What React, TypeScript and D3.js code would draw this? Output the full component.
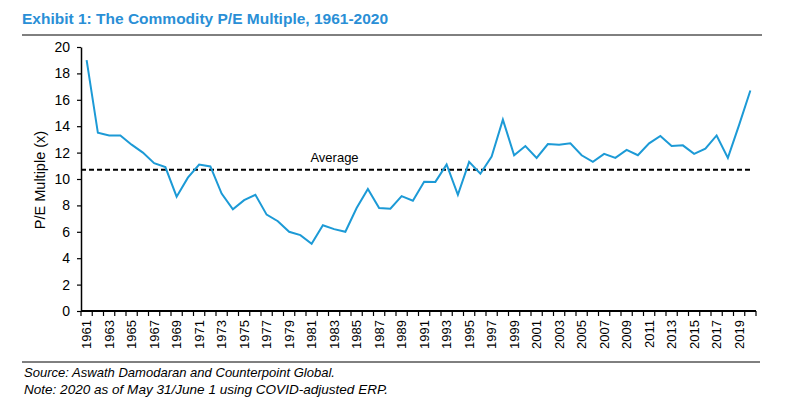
import * as d3 from "d3";
import { useEffect, useRef } from "react";

const YEARS = d3.range(1961, 2021).map(String);
const PE_VALUES = [
  19.0, 13.5, 13.3, 13.3, 12.6, 12.0, 11.2, 10.9, 8.66, 10.1,
  11.1, 10.95, 8.9, 7.7, 8.4, 8.8, 7.3, 6.8, 6.0, 5.75,
  5.1, 6.5, 6.2, 6.0, 7.8, 9.24, 7.8, 7.75, 8.7, 8.36,
  9.8, 9.78, 11.1, 8.8, 11.3, 10.4, 11.7, 14.5, 11.8, 12.5,
  11.6, 12.65, 12.6, 12.7, 11.8, 11.3, 11.9, 11.6, 12.2, 11.8,
  12.7, 13.26, 12.5, 12.55, 11.9, 12.3, 13.3, 11.6, 14.1, 16.7,
];
const AVERAGE = 10.7;
const Y_TICKS = [0, 2, 4, 6, 8, 10, 12, 14, 16, 18, 20];

const W = 787;
const H = 397;
const margin = { left: 81, right: 31, top: 47, bottom: 86 };
const FONT = "Liberation Sans, Arial, sans-serif";

export default function App() {
  const svgRef = useRef<SVGSVGElement>(null);

  useEffect(() => {
    const svgEl = d3.select(svgRef.current);
    svgEl.selectAll("*").remove();
    svgEl.style("background", "#fff");

    const width = W - margin.left - margin.right;
    const height = H - margin.top - margin.bottom;

    // title and rules
    svgEl.append("text")
      .attr("x", 22).attr("y", 24)
      .attr("font-family", FONT).attr("font-weight", "bold")
      .attr("font-size", 15.5).attr("fill", "#2a8fd6")
      .text("Exhibit 1: The Commodity P/E Multiple, 1961-2020");
    svgEl.append("line")
      .attr("x1", 22).attr("x2", 762).attr("y1", 35).attr("y2", 35)
      .attr("stroke", "#000").attr("stroke-width", 1);
    svgEl.append("line")
      .attr("x1", 22).attr("x2", 760).attr("y1", 362).attr("y2", 362)
      .attr("stroke", "#000").attr("stroke-width", 1);

    svgEl.append("text")
      .attr("x", 24).attr("y", 377)
      .attr("font-family", FONT).attr("font-style", "italic").attr("font-size", 13)
      .attr("textLength", 311).attr("lengthAdjust", "spacingAndGlyphs")
      .text("Source: Aswath Damodaran and Counterpoint Global.");
    svgEl.append("text")
      .attr("x", 24).attr("y", 394)
      .attr("font-family", FONT).attr("font-style", "italic").attr("font-size", 13)
      .attr("textLength", 364).attr("lengthAdjust", "spacingAndGlyphs")
      .text("Note: 2020 as of May 31/June 1 using COVID-adjusted ERP.");

    const svg = svgEl.append("g")
      .attr("transform", `translate(${margin.left},${margin.top})`);

    const x = d3.scaleBand().domain(YEARS).range([0, width]);
    const y = d3.scaleLinear().domain([0, 20]).range([height, 0]);

    // y axis
    const yAxis = svg.append("g")
      .call(d3.axisLeft(y).tickValues(Y_TICKS).tickSize(4).tickPadding(7).tickSizeOuter(0));
    yAxis.select(".domain").attr("stroke-width", 1.5);
    yAxis.selectAll("line").attr("stroke-width", 1.2);
    yAxis.selectAll("text").attr("font-family", FONT).attr("font-size", 14).attr("fill", "#000");

    // x axis: ticks on category boundaries, labels every other year
    const xg = svg.append("g").attr("transform", `translate(0,${height})`);
    xg.append("line")
      .attr("x1", 0).attr("x2", width)
      .attr("stroke", "#000").attr("stroke-width", 2);
    xg.selectAll(".tk")
      .data(YEARS.concat(["end"]))
      .enter().append("line")
      .attr("x1", (_, i) => i * x.step()).attr("x2", (_, i) => i * x.step())
      .attr("y1", 0).attr("y2", 5)
      .attr("stroke", "#000").attr("stroke-width", 1.2);
    xg.selectAll(".lbl")
      .data(YEARS.filter((_, i) => i % 2 === 0))
      .enter().append("text")
      .attr("transform", (d) => `translate(${(x(d) ?? 0) + x.bandwidth() / 2 + 4.5},9) rotate(-90)`)
      .attr("text-anchor", "end")
      .attr("font-family", FONT).attr("font-size", 13)
      .text((d) => d);

    // axis title
    svg.append("text")
      .attr("transform", `translate(-36,${height / 2 + 1}) rotate(-90)`)
      .attr("text-anchor", "middle")
      .attr("font-family", FONT).attr("font-size", 14.5)
      .text("P/E Multiple (x)");

    // average line
    const lastX = (x(YEARS[YEARS.length - 1]) ?? 0) + x.bandwidth() / 2;
    svg.append("line")
      .attr("x1", 0).attr("x2", lastX)
      .attr("y1", y(AVERAGE)).attr("y2", y(AVERAGE))
      .attr("stroke", "#000").attr("stroke-width", 2)
      .attr("stroke-dasharray", "5,3");
    svg.append("text")
      .attr("x", (x("1983") ?? 0) + 6).attr("y", y(AVERAGE) - 8)
      .attr("text-anchor", "middle")
      .attr("font-family", FONT).attr("font-size", 13)
      .text("Average");

    const line = d3.line<number>()
      .x((_, i) => (x(YEARS[i]) ?? 0) + x.bandwidth() / 2)
      .y((d) => y(d));
    svg.append("path")
      .datum(PE_VALUES)
      .attr("fill", "none")
      .attr("stroke", "#1c9ad6")
      .attr("stroke-width", 2)
      .attr("d", line);
  }, []);

  return (
    <svg ref={svgRef} width={W} height={H}
      style={{ position: "absolute", left: 0, top: 0 }} />
  );
}
